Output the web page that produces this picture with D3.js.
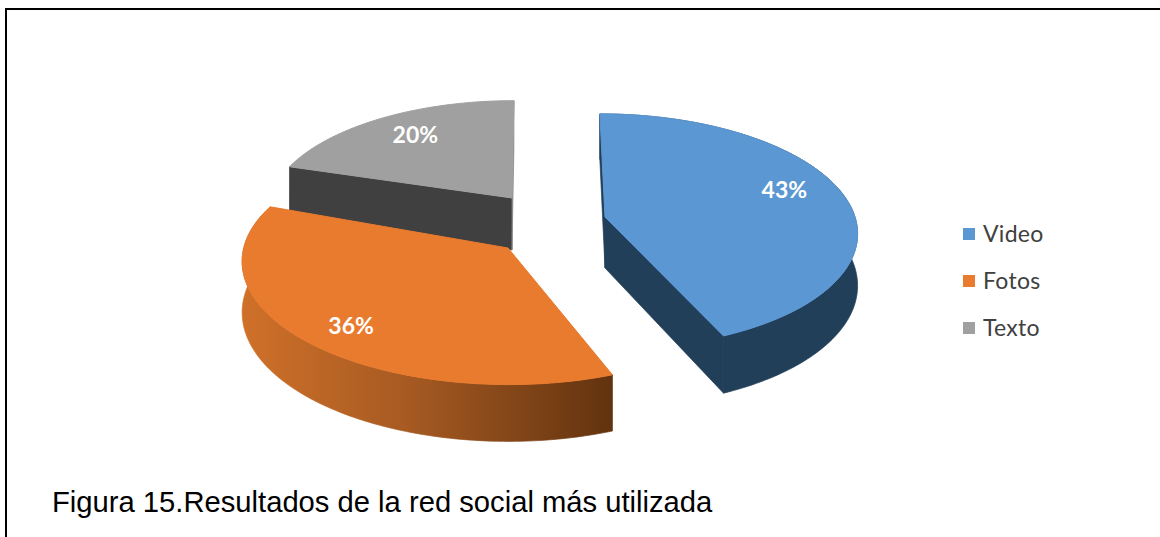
<!DOCTYPE html>
<html lang="es">
<head>
<meta charset="utf-8">
<title>Resultados de la red social más utilizada</title>
<style>
  html, body { margin: 0; padding: 0; background: #fff; }
  svg { display: block; }
</style>
</head>
<body>
<svg id="chart" width="1160" height="537"></svg>
<script src="https://cdn.jsdelivr.net/npm/d3@7/dist/d3.min.js"></script>
<script>
// Data
const categories = ["Video", "Fotos", "Texto"];
const shares = [43, 36, 20];

// Colours: top surface, outer wall, and the two cut faces of each slice
const topColors = ["#5b97d3", "#e97b2f", "#a0a0a0"];
const wallColors = ["#223f5a", "url(#fotosWall)", "#404040"];
const startFaceColors = ["#223f5a", null, "#404040"];
const endFaceColors = ["#223f5a", null, "#8a8a8a"];

// Exploded-slice placement: apex, radii, perspective, lean, tilt, label spot
const sliceViews = [
  { cx: 605, cy: 217, rx: 250, ry: 115.5, k: 0.12, lean: 0.05,  tilt: 0,     depth: 51, labelR: 0.75, labelDy: -10, outerWall: true },
  { cx: 508, cy: 248, rx: 262, ry: 120,   k: 0.12, lean: -0.11, tilt: 0.028, depth: 50, labelR: 0.79, labelDy: 6,   outerWall: true },
  { cx: 512, cy: 198, rx: 242, ry: 109,   k: 0.12, lean: -0.02, tilt: 0,     depth: 52, labelR: 0.73, labelDy: -3,  outerWall: false }
];

const svg = d3.select("#chart");

const color = d3.scaleOrdinal().domain(categories).range(topColors);
const wallColor = d3.scaleOrdinal().domain(categories).range(wallColors);
const startFace = d3.scaleOrdinal().domain(categories).range(startFaceColors);
const endFace = d3.scaleOrdinal().domain(categories).range(endFaceColors);

const pie = d3.pie().sort(null).value(d => d.value);
const slices = pie(categories.map((name, i) => ({ name, value: shares[i], view: sliceViews[i] })));

// Projects a polar point on a slice's disc to the page, lowered by `drop` for the bottom rim
function project(view, angle, radius, drop) {
  const x = radius * Math.sin(angle);
  const y = -radius * Math.cos(angle);
  const s = 1 / (1 - view.k * y);
  const dx = x * view.rx * s;
  const dy = y * view.ry * s;
  return [
    view.cx + dx + view.lean * dy,
    view.cy + dy + view.tilt * dx + drop * s
  ];
}

const outline = d3.line().curve(d3.curveLinear);

function rim(view, a0, a1, drop) {
  const n = Math.ceil(Math.abs(a1 - a0) / 0.02);
  return d3.range(n + 1).map(i => project(view, a0 + (a1 - a0) * i / n, 1, drop));
}

function cutFace(view, angle) {
  return outline([
    project(view, angle, 1, 0), project(view, angle, 0, 0),
    project(view, angle, 0, view.depth), project(view, angle, 1, view.depth)
  ]) + "Z";
}

// Gradient on the outer wall of the orange slice
const grad = svg.append("defs").append("linearGradient")
  .attr("id", "fotosWall")
  .attr("gradientUnits", "userSpaceOnUse")
  .attr("x1", 243).attr("x2", 612).attr("y1", 0).attr("y2", 0);
grad.append("stop").attr("offset", 0).attr("stop-color", "#cf7029");
grad.append("stop").attr("offset", 0.45).attr("stop-color", "#a65a22");
grad.append("stop").attr("offset", 1).attr("stop-color", "#62330f");

// Frame around the figure
svg.append("path")
  .attr("d", "M6,537V9H1160")
  .attr("fill", "none")
  .attr("stroke", "#000")
  .attr("stroke-width", 2);

// Slices are painted back to front
const order = [2, 1, 0];
const sliceGroups = svg.append("g").selectAll("g")
  .data(order.map(i => slices[i]))
  .join("g");

sliceGroups.each(function (d) {
  const g = d3.select(this);
  const v = d.data.view;
  const name = d.data.name;

  // Only the cut faces that turn towards the viewer are painted
  if (startFace(name)) {
    g.append("path").attr("d", cutFace(v, d.startAngle))
      .attr("fill", startFace(name))
      .attr("stroke", startFace(name)).attr("stroke-width", 0.7);
  }
  if (endFace(name)) {
    g.append("path").attr("d", cutFace(v, d.endAngle))
      .attr("fill", endFace(name))
      .attr("stroke", endFace(name)).attr("stroke-width", 0.7);
  }

  // Outer wall
  if (v.outerWall) {
    g.append("path")
      .attr("d", outline([
        ...rim(v, d.startAngle, d.endAngle, 0),
        ...rim(v, d.endAngle, d.startAngle, v.depth)
      ]) + "Z")
      .attr("fill", wallColor(name))
      .attr("stroke", wallColor(name))
      .attr("stroke-width", 0.7);
  }

  // Top surface
  g.append("path")
    .attr("d", outline([
      project(v, d.startAngle, 0, 0),
      ...rim(v, d.startAngle, d.endAngle, 0)
    ]) + "Z")
    .attr("fill", color(name))
    .attr("stroke", color(name))
    .attr("stroke-width", 1);
});

// Percentage labels
sliceGroups.append("text")
  .attr("x", d => project(d.data.view, (d.startAngle + d.endAngle) / 2, d.data.view.labelR, 0)[0])
  .attr("y", d => project(d.data.view, (d.startAngle + d.endAngle) / 2, d.data.view.labelR, 0)[1] + d.data.view.labelDy)
  .attr("dy", "0.35em")
  .attr("text-anchor", "middle")
  .attr("font-family", "Lato, sans-serif")
  .attr("font-weight", 700)
  .attr("font-size", 23)
  .attr("fill", "#fff")
  .text(d => d.data.value + "%");

// Legend
const legendY = d3.scalePoint().domain(categories).range([234, 328]);
const legend = svg.append("g").selectAll("g")
  .data(categories)
  .join("g")
  .attr("transform", d => `translate(963,${legendY(d)})`);
legend.append("rect")
  .attr("x", 0).attr("y", -6).attr("width", 12).attr("height", 12)
  .attr("fill", d => color(d));
legend.append("text")
  .attr("x", 20)
  .attr("dy", "0.35em")
  .attr("font-family", "Lato, sans-serif")
  .attr("font-size", 23)
  .attr("letter-spacing", 0.3)
  .attr("fill", "#404040")
  .text(d => d);

// Caption
svg.append("text")
  .attr("x", 52)
  .attr("y", 512)
  .attr("font-family", "'Liberation Sans', Arial, sans-serif")
  .attr("font-size", 29.2)
  .attr("fill", "#000")
  .text("Figura 15.Resultados de la red social más utilizada");
</script>
</body>
</html>
